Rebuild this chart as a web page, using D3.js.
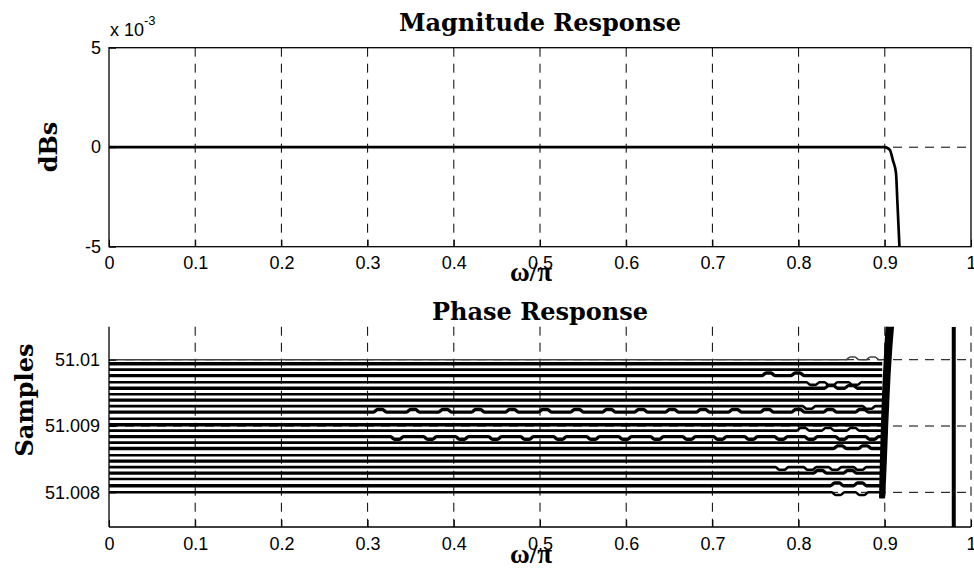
<!DOCTYPE html>
<html><head><meta charset="utf-8">
<script src="https://cdn.jsdelivr.net/npm/d3@7"></script>
<style>body{margin:0;background:#fff}</style>
</head><body>
<svg id="c" width="974" height="575" xmlns="http://www.w3.org/2000/svg"></svg>
<script>
// ---------- data ----------
const xTicks = [0,0.1,0.2,0.3,0.4,0.5,0.6,0.7,0.8,0.9,1];
const xTickLabels = ["0","0.1","0.2","0.3","0.4","0.5","0.6","0.7","0.8","0.9","1"];
const magTicks = [-5,0,5];
const magTickLabels = ["-5","0","5"];
const phaseTicks = [51.008,51.009,51.01];
const phaseTickLabels = ["51.008","51.009","51.01"];

// magnitude response, in units of 1e-3 dB
const magX = [0,0.1,0.2,0.3,0.4,0.5,0.6,0.7,0.8,0.9,0.903,0.906,0.9095,0.913,0.9145,0.917,0.919];
const magY = [0,0,0,0,0,0,0,0,0,0,-0.04,-0.15,-0.67,-1.3,-2.65,-5,-7];

// group delay (samples): quantised levels
const faintLevel = 51.01000;
const stripeLevels = [51.00994,51.00985,51.00976,51.00966,51.00957,51.00948,51.00939,51.00930,
  51.00921,51.00911,51.00902,51.00893,51.00884,51.00875,51.00866,51.00856,51.00847,51.00838,
  51.00829,51.00820,51.00810,51.00800];
const stripeEndX = 0.897;
// small jumps between neighbouring levels: level, direction, centre positions (ω/π)
const wiggles = [
  {level:51.01000, dir: 1, at:[0.8625,0.8858]},
  {level:51.00976, dir: 1, at:[0.7651,0.7988]},
  {level:51.00966, dir:-1, at:[0.8167,0.8376,0.8654]},
  {level:51.00957, dir: 1, at:[0.8376,0.8608]},
  {level:51.00930, dir:-1, at:[0.8121,0.8816]},
  {level:51.00921, dir: 1, at:[0.3144,0.3527,0.3898,0.4281,0.4675,0.5058,0.5429,0.5800,0.6172,0.6531,0.6891,0.7262,0.7633,0.7993,0.8364,0.8735]},
  {level:51.00893, dir: 1, at:[0.8051,0.8341,0.8631]},
  {level:51.00884, dir:-1, at:[0.3341,0.3724,0.4095,0.4478,0.4849,0.5232,0.5615,0.5986,0.6357,0.6729,0.7088,0.7448,0.7796,0.8144,0.8503,0.8852]},
  {level:51.00866, dir: 1, at:[0.8480,0.8770]},
  {level:51.00838, dir:-1, at:[0.7807,0.8132,0.8422,0.8712]},
  {level:51.00829, dir: 1, at:[0.8248,0.8596]},
  {level:51.00810, dir: 1, at:[0.8445,0.8712]},
  {level:51.00800, dir:-1, at:[0.8458,0.8735]}
];
// steep rise near the band edge: level, left edge, right edge (ω/π)
const bandV = [51.00792,51.0082,51.0086,51.0090,51.0094,51.0098,51.0102,51.0106];
const bandL = [0.8942,0.8946,0.8954,0.8963,0.8974,0.8988,0.9004,0.9022];
const bandR = [0.8995,0.9006,0.9019,0.9031,0.9045,0.9060,0.9080,0.9105];
const spikeX = 0.980;

// ---------- drawing ----------
const svg = d3.select("#c");
svg.append("rect").attr("width",974).attr("height",575).attr("fill","#fff");

const tickFont = "'Liberation Sans', Arial, Helvetica, sans-serif";
const serif = "'DejaVu Serif', serif";
const greek = "'Liberation Serif', 'Times New Roman', serif";

const xTop = d3.scaleLinear().domain([0,1]).range([109,971]);
const yTop = d3.scaleLinear().domain([-5,5]).range([246.7,47.7]);
const xBot = d3.scaleLinear().domain([0,1]).range([109,971]);
const yBot = d3.scaleLinear().domain([51.007477,51.010498]).range([527,326.7]);

const dash = "9,7";

// ===== TOP PLOT =====
const gT = svg.append("g");
gT.selectAll("line.vg").data(xTicks.slice(1,-1)).join("line")
  .attr("x1",d=>xTop(d)).attr("x2",d=>xTop(d)).attr("y1",yTop(5)).attr("y2",yTop(-5))
  .attr("stroke","#000").attr("stroke-width",1).attr("stroke-dasharray",dash);
gT.selectAll("line.hg").data([0]).join("line")
  .attr("x1",xTop(0)).attr("x2",xTop(1)).attr("y1",d=>yTop(d)).attr("y2",d=>yTop(d))
  .attr("stroke","#000").attr("stroke-width",1).attr("stroke-dasharray",dash);

svg.append("clipPath").attr("id","clipT").append("rect")
  .attr("x",xTop(0)).attr("y",yTop(5)).attr("width",xTop(1)-xTop(0)).attr("height",yTop(-5)-yTop(5));
const magData = magX.map((x,i)=>[x,magY[i]]);
gT.append("path").datum(magData).attr("clip-path","url(#clipT)")
  .attr("d",d3.line().x(d=>xTop(d[0])).y(d=>yTop(d[1])).curve(d3.curveMonotoneX))
  .attr("fill","none").attr("stroke","#000").attr("stroke-width",2.7);

const axTB = d3.axisBottom(xTop).tickValues(xTicks).tickFormat((d,i)=>xTickLabels[i]).tickSizeInner(-7).tickSizeOuter(0).tickPadding(10);
const axTL = d3.axisLeft(yTop).tickValues(magTicks).tickFormat((d,i)=>magTickLabels[i]).tickSizeInner(-7).tickSizeOuter(0).tickPadding(8);
const gxT = gT.append("g").attr("transform",`translate(0,${yTop(-5)})`).call(axTB);
const gyT = gT.append("g").attr("transform",`translate(${xTop(0)},0)`).call(axTL);
[gxT,gyT].forEach(g=>{g.select(".domain").remove(); g.selectAll("text").attr("font-family",tickFont).attr("font-size",18).attr("fill","#000");});
gT.append("rect").attr("x",xTop(0)).attr("y",yTop(5)).attr("width",xTop(1)-xTop(0)).attr("height",yTop(-5)-yTop(5))
  .attr("fill","none").attr("stroke","#000").attr("stroke-width",1.3);

const ex = gT.append("text").attr("x",110).attr("y",36).attr("font-family",tickFont).attr("font-size",18).attr("fill","#000");
ex.append("tspan").text("x 10");
ex.append("tspan").attr("font-size",13).attr("dy",-11).text("-3");

gT.append("text").attr("x",540).attr("y",31).attr("text-anchor","middle").attr("font-family",serif).attr("font-weight","bold").attr("font-size",24).text("Magnitude Response");
gT.append("text").attr("x",531).attr("y",281).attr("text-anchor","middle").attr("font-family",greek).attr("font-weight","bold").attr("font-size",27).text("ω/π");
gT.append("text").attr("transform","translate(57,147) rotate(-90)").attr("text-anchor","middle").attr("font-family",serif).attr("font-weight","bold").attr("font-size",24).text("dBs");

// ===== BOTTOM PLOT =====
const gB = svg.append("g");
gB.selectAll("line.vg").data(xTicks.slice(1)).join("line")
  .attr("x1",d=>xBot(d)).attr("x2",d=>xBot(d)).attr("y1",yBot.range()[1]).attr("y2",yBot.range()[0])
  .attr("stroke","#000").attr("stroke-width",1).attr("stroke-dasharray",dash);
gB.selectAll("line.hg").data(phaseTicks).join("line")
  .attr("x1",xBot(0)).attr("x2",xBot(1)).attr("y1",d=>yBot(d)).attr("y2",d=>yBot(d))
  .attr("stroke","#000").attr("stroke-width",1).attr("stroke-dasharray",dash);

svg.append("clipPath").attr("id","clipB").append("rect")
  .attr("x",xBot(0)).attr("y",yBot.range()[1]).attr("width",xBot(1)-xBot(0)).attr("height",yBot.range()[0]-yBot.range()[1]);
const dataB = gB.append("g").attr("clip-path","url(#clipB)");

const bumpH = 0.00004, bumpOut = 0.0075, bumpIn = 0.0028;
function stripePoints(level){
  const w = wiggles.find(o=>Math.abs(o.level-level)<1e-7);
  const pts = [[0,level]];
  if (w) {
    w.at.forEach(c=>{
      pts.push([c-bumpOut,level],[c-bumpIn,level+w.dir*bumpH],[c+bumpIn,level+w.dir*bumpH],[c+bumpOut,level]);
    });
  }
  pts.push([stripeEndX,level]);
  return pts.filter(p=>p[0]<=stripeEndX);
}
const sLine = d3.line().x(d=>xBot(d[0])).y(d=>yBot(d[1])).curve(d3.curveMonotoneX);

dataB.append("path").datum(stripePoints(faintLevel)).attr("d",sLine)
  .attr("fill","none").attr("stroke","#444").attr("stroke-width",1.5);
dataB.selectAll("path.stripe").data(stripeLevels).join("path").attr("class","stripe")
  .attr("d",d=>sLine(stripePoints(d)))
  .attr("fill","none").attr("stroke","#000").attr("stroke-width",(d,i)=> i%2 ? 2.6 : 3.4);

const band = bandV.map((v,i)=>({v, l:bandL[i], r:bandR[i]}));
dataB.append("path").datum(band)
  .attr("d",d3.area().y(d=>yBot(d.v)).x0(d=>xBot(d.l)).x1(d=>xBot(d.r)).curve(d3.curveMonotoneY))
  .attr("fill","#000").attr("stroke","#000").attr("stroke-width",1.5).attr("stroke-linejoin","round");

dataB.append("line").attr("x1",xBot(spikeX)).attr("x2",xBot(spikeX))
  .attr("y1",yBot.range()[1]).attr("y2",yBot.range()[0]).attr("stroke","#000").attr("stroke-width",4);

const axBB = d3.axisBottom(xBot).tickValues(xTicks).tickFormat((d,i)=>xTickLabels[i]).tickSizeInner(-7).tickSizeOuter(0).tickPadding(10);
const axBL = d3.axisLeft(yBot).tickValues(phaseTicks).tickFormat((d,i)=>phaseTickLabels[i]).tickSizeInner(-7).tickSizeOuter(0).tickPadding(9);
const gxB = gB.append("g").attr("transform",`translate(0,${yBot.range()[0]})`).call(axBB);
const gyB = gB.append("g").attr("transform",`translate(${xBot(0)},0)`).call(axBL);
[gxB,gyB].forEach(g=>{g.select(".domain").remove(); g.selectAll("text").attr("font-family",tickFont).attr("font-size",18).attr("fill","#000");});
gB.append("line").attr("x1",xBot(0)).attr("x2",xBot(1)).attr("y1",yBot.range()[0]).attr("y2",yBot.range()[0]).attr("stroke","#000").attr("stroke-width",1.3);
gB.append("line").attr("x1",xBot(0)).attr("x2",xBot(0)).attr("y1",yBot.range()[1]).attr("y2",yBot.range()[0]).attr("stroke","#000").attr("stroke-width",1.3);

gB.append("text").attr("x",540).attr("y",320).attr("text-anchor","middle").attr("font-family",serif).attr("font-weight","bold").attr("font-size",24).text("Phase Response");
gB.append("text").attr("x",531).attr("y",563).attr("text-anchor","middle").attr("font-family",greek).attr("font-weight","bold").attr("font-size",27).text("ω/π");
gB.append("text").attr("transform","translate(33,400) rotate(-90)").attr("text-anchor","middle").attr("font-family",serif).attr("font-weight","bold").attr("font-size",24).text("Samples");
</script>
</body></html>
